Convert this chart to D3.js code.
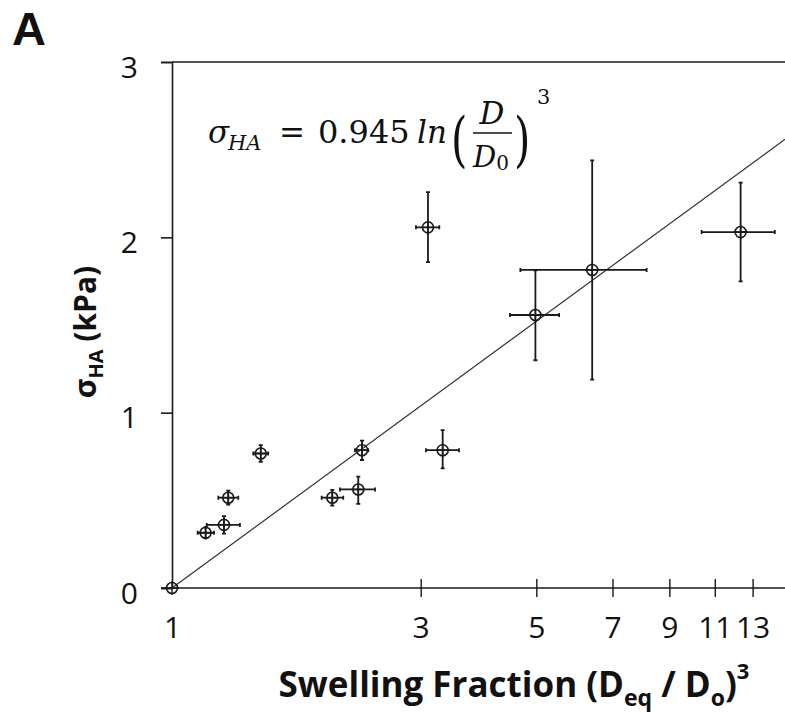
<!DOCTYPE html>
<html>
<head>
<meta charset="utf-8">
<script src="https://cdn.jsdelivr.net/npm/d3@7"></script>
<style>
  body { margin: 0; background: #fff; }
  svg { display: block; }
  .tick text { font-family: "Open Sans", sans-serif; font-size: 30px; fill: #111; }
  .axisTitle { font-family: "Open Sans", sans-serif; font-weight: bold; fill: #111; }
  .eq { font-family: "DejaVu Serif", serif; fill: #111; }
</style>
</head>
<body>
<script>

// swelling fraction (x), stress in kPa (y), with error bar ends
const swell  = [1, 1.16, 1.258, 1.282, 1.48, 2.03, 2.277, 2.315, 3.306, 3.098, 4.98, 6.40, 12.33];
const stress = [0, 0.315, 0.36, 0.515, 0.767, 0.515, 0.562, 0.786, 0.786, 2.057, 1.557, 1.814, 2.03];
const xLow   = [1, 1.12, 1.166, 1.227, 1.432, 1.937, 2.10, 2.244, 3.071, 2.938, 4.45, 4.66, 10.38];
const xHigh  = [1, 1.204, 1.35, 1.34, 1.53, 2.131, 2.452, 2.38, 3.553, 3.257, 5.53, 8.14, 14.34];
const yLow   = [0, 0.285, 0.31, 0.475, 0.72, 0.47, 0.48, 0.73, 0.682, 1.859, 1.299, 1.189, 1.749];
const yHigh  = [0, 0.345, 0.41, 0.555, 0.815, 0.56, 0.635, 0.84, 0.90, 2.258, 1.812, 2.439, 2.312];

const xTicks = [1, 3, 5, 7, 9, 11, 13];
const yTicks = [0, 1, 2, 3];
const fitCoef = 0.945;
const fitRange = [1, 15];

const data = swell.map((d, i) => ({
    x: d, y: stress[i], x0: xLow[i], x1: xHigh[i], y0: yLow[i], y1: yHigh[i]
}));

const w = 785, h = 718;
const margin = ({top: 62, right: 0, bottom: 130, left: 172});

const svg = d3.select("body")
    .append("svg")
    .attr("width", w)
    .attr("height", h);

let x = d3.scaleLog()
    .domain(fitRange)
    .range([margin.left, w - margin.right]);

let y = d3.scaleLinear()
    .domain([0, 3])
    .range([h - margin.bottom, margin.top]);

const ink = "#1a1a1a";

// top frame line
svg.append("line")
    .attr("x1", margin.left).attr("x2", w)
    .attr("y1", y(3)).attr("y2", y(3))
    .attr("stroke", ink).attr("stroke-width", 1.6);

// y axis
let yAxis = d3.axisLeft(y)
    .tickValues(yTicks)
    .tickFormat(d3.format("d"))
    .tickSize(11)
    .tickPadding(23);

let gy = svg.append("g")
    .attr("transform", `translate(${margin.left},0)`)
    .call(yAxis);
gy.select(".domain").attr("stroke", ink).attr("stroke-width", 1.6);
gy.selectAll(".tick line").attr("stroke", ink).attr("stroke-width", 1.6);
gy.selectAll(".tick text").attr("dy", "0.5em");

// x axis, ticks crossing the line
let xAxis = d3.axisBottom(x)
    .tickValues(xTicks)
    .tickFormat(d3.format("d"))
    .tickSize(9)
    .tickPadding(20);

let gx = svg.append("g")
    .attr("transform", `translate(0,${y(0)})`)
    .call(xAxis);
gx.select(".domain").attr("d", `M${margin.left - 11},0H${w}`)
    .attr("stroke", ink).attr("stroke-width", 1.6);
gx.selectAll(".tick line")
    .attr("y1", -9)
    .attr("stroke", ink).attr("stroke-width", 1.4)
    .attr("display", d => d === 1 ? "none" : null);

// fitted line
let line = d3.line()
    .x(d => x(d))
    .y(d => y(fitCoef * Math.log(d)));

svg.append("path")
    .datum(fitRange)
    .attr("d", line)
    .attr("fill", "none")
    .attr("stroke", "#333")
    .attr("stroke-width", 1.2);

// error bars
const cap = 2;
const pts = svg.append("g").attr("stroke", ink).attr("fill", "none");

pts.selectAll(".xerr")
    .data(data.filter(d => d.x1 > d.x0))
    .enter().append("path")
    .attr("stroke-width", 1.8)
    .attr("d", d => `M${x(d.x0)},${y(d.y)}H${x(d.x1)}` +
        `M${x(d.x0)},${y(d.y) - cap}v${2 * cap}M${x(d.x1)},${y(d.y) - cap}v${2 * cap}`);

pts.selectAll(".yerr")
    .data(data.filter(d => d.y1 > d.y0))
    .enter().append("path")
    .attr("stroke-width", 1.8)
    .attr("d", d => `M${x(d.x)},${y(d.y0)}V${y(d.y1)}` +
        `M${x(d.x) - cap},${y(d.y0)}h${2 * cap}M${x(d.x) - cap},${y(d.y1)}h${2 * cap}`);

// markers: open circle with cross
pts.selectAll("circle")
    .data(data)
    .enter().append("circle")
    .attr("cx", d => x(d.x))
    .attr("cy", d => y(d.y))
    .attr("r", 5.5)
    .attr("stroke-width", 1.6);

pts.selectAll(".cross")
    .data(data)
    .enter().append("path")
    .attr("stroke-width", 1.4)
    .attr("d", d => `M${x(d.x) - 7},${y(d.y)}h14M${x(d.x)},${y(d.y) - 7}v14`);

// panel letter
svg.append("text")
    .attr("x", 12)
    .attr("y", 45)
    .style("font-family", "'Liberation Sans', sans-serif")
    .style("font-weight", "bold")
    .style("font-size", "47px")
    .attr("fill", "#111")
    .text("A");

// x axis title
let xt = svg.append("text")
    .attr("class", "axisTitle")
    .attr("x", 514)
    .attr("y", 697)
    .attr("text-anchor", "middle")
    .style("font-size", "35px");
xt.append("tspan").text("Swelling Fraction (D");
xt.append("tspan").attr("dy", 9).style("font-size", "23px").text("eq");
xt.append("tspan").attr("dy", -9).text(" / D");
xt.append("tspan").attr("dy", 9).style("font-size", "23px").text("o");
xt.append("tspan").attr("dy", -9).text(")");
xt.append("tspan").attr("dy", -18).style("font-size", "22px").text("3");

// y axis title
let yt = svg.append("text")
    .attr("class", "axisTitle")
    .attr("transform", "translate(96,332) rotate(-90)")
    .attr("text-anchor", "middle")
    .style("font-size", "30px");
yt.append("tspan").text("σ");
yt.append("tspan").attr("dy", 7).style("font-size", "20px").text("HA");
yt.append("tspan").attr("dy", -7).text(" (kPa)");

// equation
let eq = svg.append("g").attr("class", "eq").style("font-size", "31px");
eq.append("text").attr("x", 208).attr("y", 143).style("font-style", "italic").text("σ");
eq.append("text").attr("x", 228).attr("y", 150).style("font-style", "italic")
    .style("font-size", "21px").text("HA");
eq.append("text").attr("x", 279).attr("y", 143)
    .attr("textLength", 26).attr("lengthAdjust", "spacingAndGlyphs").text("=");
eq.append("text").attr("x", 318).attr("y", 143)
    .style("font-size", "32px").text("0.945");
eq.append("text").attr("x", 417).attr("y", 143).style("font-style", "italic")
    .text("ln");

eq.append("text").attr("x", 451).attr("y", 160).style("font-size", "60px")
    .attr("transform", "translate(451,0) scale(0.7,1) translate(-451,0)")
    .text("(");
eq.append("text").attr("x", 492).attr("y", 124).attr("text-anchor", "middle")
    .style("font-style", "italic").text("D");
eq.append("line").attr("x1", 473).attr("x2", 512).attr("y1", 133).attr("y2", 133)
    .attr("stroke", "#111").attr("stroke-width", 1.5);
let den = eq.append("text").attr("x", 473).attr("y", 167).style("font-size", "29px");
den.append("tspan").style("font-style", "italic").text("D");
den.append("tspan").attr("dy", 3).style("font-size", "20px").text("0");
eq.append("text").attr("x", 514).attr("y", 160).style("font-size", "60px")
    .attr("transform", "translate(514,0) scale(0.7,1) translate(-514,0)")
    .text(")");
eq.append("text").attr("x", 537).attr("y", 104).style("font-size", "21px").text("3");

</script>
</body>
</html>
